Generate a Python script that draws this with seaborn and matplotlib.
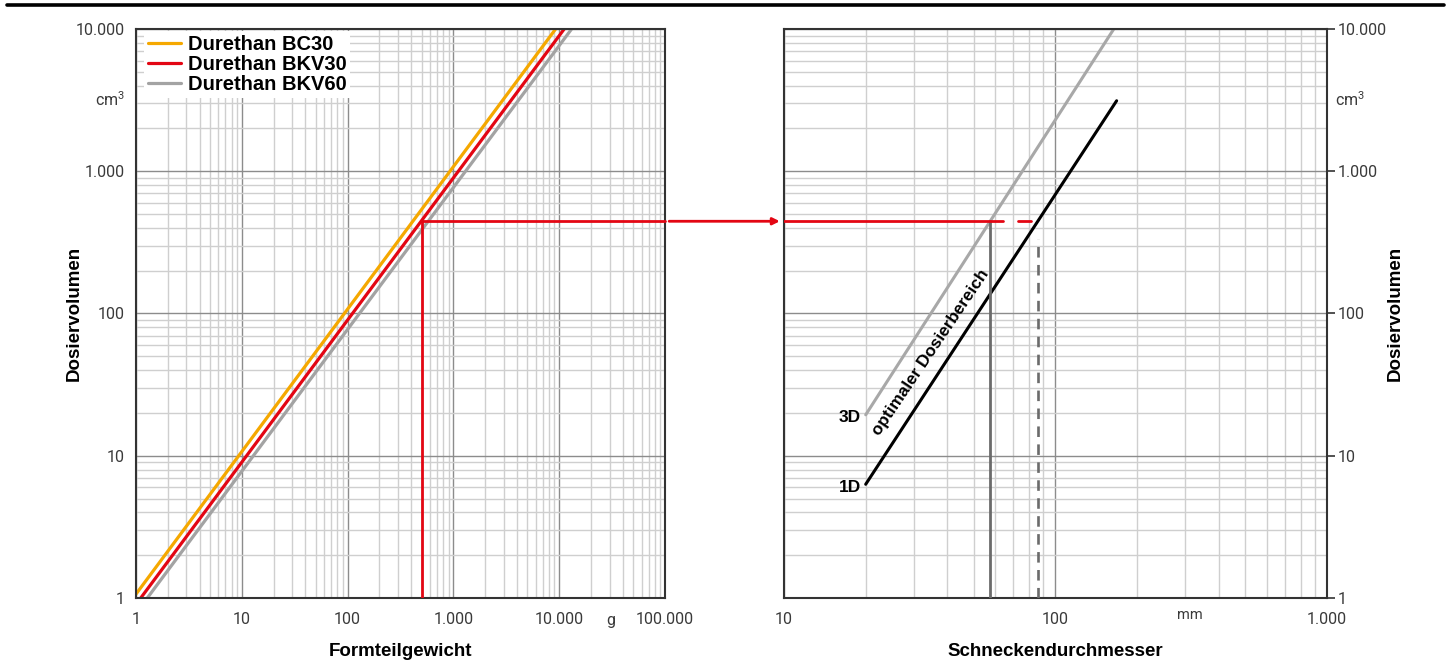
import matplotlib
matplotlib.use('Agg')
import matplotlib.pyplot as plt
from matplotlib.lines import Line2D
from matplotlib.patches import ConnectionPatch
from matplotlib.ticker import FixedLocator, LogLocator, NullFormatter
import pandas as pd
import seaborn as sns

# left chart: part weight -> dosing volume
materials = ['Durethan BC30', 'Durethan BKV30', 'Durethan BKV60']
material_colors = ['#f5a800', '#e30613', '#a3a3a3']
part_weight_g = [[0.94, 9250], [1.11, 11150], [1.28, 13100]]
dose_volume_cm3 = [1, 10000]

# right chart: screw diameter -> dosing volume
screws = ['3D', '1D']
screw_colors = ['#a8a8a8', '#000000']
screw_diameter_mm = [[20, 164], [20, 168]]
screw_volume_cm3 = [[19.4, 10000], [6.3, 3130]]

# worked example (red construction line)
example_weight_g = 500
example_volume_cm3 = 445
example_diameter_3d_mm = 57.4
example_diameter_1d_mm = 86

volume_ticks = [1, 10, 100, 1000, 10000]
volume_labels = ['1', '10', '100', '1.000', '10.000']
weight_ticks = [1, 10, 100, 1000, 10000, 100000]
weight_labels = ['1', '10', '100', '1.000', '10.000', '100.000']
diameter_ticks = [10, 100, 1000]
diameter_labels = ['10', '100', '1.000']

sns.set_theme(style='white')
plt.rcParams['font.family'] = ['Roboto', 'DejaVu Sans']
plt.rcParams['mathtext.default'] = 'regular'
plt.rcParams['text.color'] = 'black'

BOLD_FONT = ['Liberation Sans', 'DejaVu Sans']
TICK_COLOR = '#3a3a3a'
TICK_SIZE = 11.5

rows = []
for name, masses in zip(materials, part_weight_g):
    for m, v in zip(masses, dose_volume_cm3):
        rows.append({'material': name, 'weight': m, 'volume': v})
weight_frame = pd.DataFrame(rows)

rows = []
for name, diams, vols in zip(screws, screw_diameter_mm, screw_volume_cm3):
    for d, v in zip(diams, vols):
        rows.append({'screw': name, 'diameter': d, 'volume': v})
screw_frame = pd.DataFrame(rows)

fig = plt.figure(figsize=(14.51, 6.70), dpi=100)
ax1 = fig.add_axes([0.0937, 0.1075, 0.3646, 0.8492])
ax2 = fig.add_axes([0.5403, 0.1075, 0.3742, 0.8492])


def style_axis(ax, xticks, xlabels, xlim):
    ax.set_xscale('log')
    ax.set_yscale('log')
    ax.set_xlim(*xlim)
    ax.set_ylim(1, 10000)
    ax.xaxis.set_major_locator(FixedLocator(xticks))
    ax.xaxis.set_ticklabels(xlabels)
    ax.yaxis.set_major_locator(FixedLocator(volume_ticks))
    ax.yaxis.set_ticklabels(volume_labels)
    ax.xaxis.set_minor_locator(LogLocator(base=10, subs=range(2, 10), numticks=20))
    ax.yaxis.set_minor_locator(LogLocator(base=10, subs=range(2, 10), numticks=20))
    ax.xaxis.set_minor_formatter(NullFormatter())
    ax.yaxis.set_minor_formatter(NullFormatter())
    ax.grid(which='major', color='#8c8c8c', linewidth=1.0)
    ax.grid(which='minor', color='#cfcfcf', linewidth=1.0)
    ax.set_axisbelow(True)
    for sp in ax.spines.values():
        sp.set_visible(True)
        sp.set_color('#333333')
        sp.set_linewidth(1.5)
    ax.tick_params(which='major', axis='y', length=6, width=1.2, color='#333333',
                   labelcolor=TICK_COLOR, labelsize=TICK_SIZE, pad=2, direction='out')
    ax.tick_params(which='major', axis='x', length=4, width=1.2, color='#333333',
                   labelcolor=TICK_COLOR, labelsize=TICK_SIZE, pad=6, direction='out')
    ax.tick_params(which='minor', length=0)


def bold_label(ax, axis, text, coords):
    kw = dict(fontfamily=BOLD_FONT, fontweight='bold', fontsize=13.5, color='black')
    if axis == 'x':
        ax.set_xlabel(text, **kw)
        ax.xaxis.set_label_coords(*coords)
    else:
        ax.set_ylabel(text, **kw)
        ax.yaxis.set_label_coords(*coords)


# ---- left chart
sns.lineplot(data=weight_frame, x='weight', y='volume', hue='material',
             palette=material_colors, estimator=None, sort=False,
             linewidth=2.3, ax=ax1)
style_axis(ax1, weight_ticks, weight_labels, (1, 100000))

ax1.plot([example_weight_g, example_weight_g], [1, example_volume_cm3],
         color='#e30613', linewidth=2.0, zorder=4)
ax1.plot([example_weight_g, 100000], [example_volume_cm3, example_volume_cm3],
         color='#e30613', linewidth=2.0, zorder=4, clip_on=False)

leg = ax1.legend(loc='upper left', bbox_to_anchor=(0.012, 1.0), frameon=True,
                 facecolor='white', edgecolor='none', framealpha=1,
                 borderaxespad=0.1, borderpad=0.2, labelspacing=0.05,
                 handlelength=1.6, handletextpad=0.35,
                 prop={'family': BOLD_FONT, 'weight': 'bold', 'size': 14.5})
leg.get_frame().set_boxstyle('square', pad=0)
for line in leg.get_lines():
    line.set_linewidth(2.3)
for t in leg.get_texts():
    t.set_color('black')

bold_label(ax1, 'y', 'Dosiervolumen', (-0.100, 0.5))
bold_label(ax1, 'x', 'Formteilgewicht', (0.5, -0.080))
ax1.text(-0.021, 3200, 'cm$^3$', transform=ax1.get_yaxis_transform(), ha='right', va='center',
         fontsize=TICK_SIZE, color=TICK_COLOR)
ax1.text(31000, -0.040, 'g', transform=ax1.get_xaxis_transform(), ha='center', va='center',
         fontsize=TICK_SIZE, color=TICK_COLOR)

# ---- right chart
sns.lineplot(data=screw_frame, x='diameter', y='volume', hue='screw',
             palette=screw_colors, estimator=None, sort=False,
             linewidth=2.2, legend=False, ax=ax2)
style_axis(ax2, diameter_ticks, diameter_labels, (10, 1000))
ax2.yaxis.tick_right()
ax2.yaxis.set_label_position('right')

ax2.plot([10, 64], [example_volume_cm3, example_volume_cm3], color='#e30613', linewidth=2.0, zorder=4)
ax2.plot([73, 81], [example_volume_cm3, example_volume_cm3], color='#e30613', linewidth=2.0, zorder=4)
ax2.plot([example_diameter_3d_mm, example_diameter_3d_mm], [1, example_volume_cm3],
         color='#6b6b6b', linewidth=2.0, zorder=3)
ax2.plot([example_diameter_1d_mm, example_diameter_1d_mm], [1, 335],
         color='#6b6b6b', linewidth=1.9, linestyle=(0, (4, 2.8)), zorder=3)

con = ConnectionPatch(xyA=(100000, example_volume_cm3), coordsA=ax1.transData,
                      xyB=(10, example_volume_cm3), coordsB=ax2.transData,
                      arrowstyle='-|>', mutation_scale=10, shrinkA=3, shrinkB=3,
                      color='#e30613', linewidth=2.0)
fig.add_artist(con)

ax2.text(19.2, 18.5, '3D', ha='right', va='center', fontfamily=BOLD_FONT,
         fontweight='bold', fontsize=12.5, color='black')
ax2.text(19.2, 5.95, '1D', ha='right', va='center', fontfamily=BOLD_FONT,
         fontweight='bold', fontsize=12.5, color='black')
ax2.text(34.8, 53, 'optimaler Dosierbereich', rotation=56, rotation_mode='anchor',
         ha='center', va='center', fontfamily=BOLD_FONT, fontweight='bold',
         fontsize=12.3, color='black')

bold_label(ax2, 'y', 'Dosiervolumen', (1.110, 0.5))
bold_label(ax2, 'x', 'Schneckendurchmesser', (0.5, -0.080))
ax2.text(1.015, 3200, 'cm$^3$', transform=ax2.get_yaxis_transform(), ha='left', va='center',
         fontsize=TICK_SIZE, color=TICK_COLOR)
ax2.text(313, -0.030, 'mm', transform=ax2.get_xaxis_transform(), ha='center', va='center',
         fontsize=TICK_SIZE - 1, color=TICK_COLOR)

# thick rule at the top of the page
fig.add_artist(Line2D([0.005, 0.995], [0.9925, 0.9925], color='black', linewidth=2.6))

fig.savefig('out.png', dpi=100)
